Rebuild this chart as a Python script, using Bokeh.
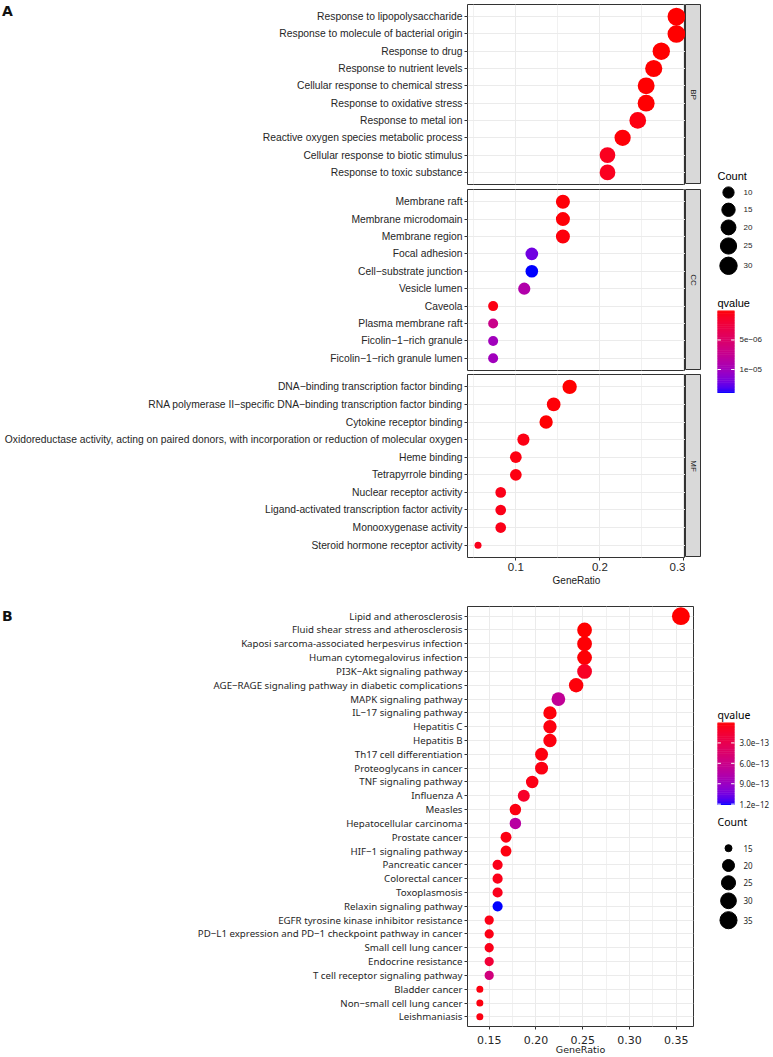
import math
from bokeh.plotting import figure
from bokeh.layouts import row, column
from bokeh.models import (FactorRange, Range1d, FixedTicker, ColumnDataSource, Label,
                          NumeralTickFormatter)
from bokeh.transform import linear_cmap
from bokeh.core.properties import value
from bokeh.embed import file_html
from bokeh.resources import INLINE

# ---------------- data: panel A (GO) ----------------
bp_terms = ["Response to lipopolysaccharide", "Response to molecule of bacterial origin",
            "Response to drug", "Response to nutrient levels", "Cellular response to chemical stress",
            "Response to oxidative stress", "Response to metal ion",
            "Reactive oxygen species metabolic process", "Cellular response to biotic stimulus",
            "Response to toxic substance"]
bp_ratio = [0.291, 0.291, 0.273, 0.264, 0.255, 0.255, 0.245, 0.227, 0.209, 0.209]
bp_count = [32, 32, 30, 29, 28, 28, 27, 25, 23, 23]
bp_q = [1.2e-10, 1.5e-10, 2e-9, 3e-8, 8e-8, 6e-8, 4e-7, 2e-7, 9e-7, 9e-7]

cc_terms = ["Membrane raft", "Membrane microdomain", "Membrane region", "Focal adhesion",
            "Cell\u2212substrate junction", "Vesicle lumen", "Caveola", "Plasma membrane raft",
            "Ficolin\u22121\u2212rich granule", "Ficolin\u22121\u2212rich granule lumen"]
cc_ratio = [0.156, 0.156, 0.156, 0.119, 0.119, 0.110, 0.073, 0.073, 0.073, 0.073]
cc_count = [17, 17, 17, 13, 13, 12, 8, 8, 8, 8]
cc_q = [2e-7, 2e-7, 3e-7, 1.22e-5, 1.39e-5, 9.0e-6, 5e-7, 7.0e-6, 1.0e-5, 1.0e-5]

mf_terms = ["DNA\u2212binding transcription factor binding",
            "RNA polymerase II\u2212specific DNA\u2212binding transcription factor binding",
            "Cytokine receptor binding",
            "Oxidoreductase activity, acting on paired donors, with incorporation or reduction of molecular oxygen",
            "Heme binding", "Tetrapyrrole binding", "Nuclear receptor activity",
            "Ligand-activated transcription factor activity", "Monooxygenase activity",
            "Steroid hormone receptor activity"]
mf_ratio = [0.164, 0.145, 0.136, 0.109, 0.100, 0.100, 0.082, 0.082, 0.082, 0.055]
mf_count = [18, 16, 15, 12, 11, 11, 9, 9, 9, 6]
mf_q = [3e-8, 2e-7, 1e-7, 5e-7, 4e-7, 4e-7, 6e-7, 6e-7, 6e-7, 8e-7]

a_ticks = [0.1, 0.2, 0.3]
a_minor = [0.05, 0.15, 0.25]
a_count_breaks = [10, 15, 20, 25, 30]
a_q_breaks = [5e-6, 1e-5]
a_q_labels = ["5e\u221206", "1e\u221205"]

# ---------------- data: panel B (KEGG) ----------------
kegg_terms = ["Lipid and atherosclerosis", "Fluid shear stress and atherosclerosis",
              "Kaposi sarcoma-associated herpesvirus infection", "Human cytomegalovirus infection",
              "PI3K\u2212Akt signaling pathway",
              "AGE\u2212RAGE signaling pathway in diabetic complications",
              "MAPK signaling pathway", "IL\u221217 signaling pathway", "Hepatitis C", "Hepatitis B",
              "Th17 cell differentiation", "Proteoglycans in cancer", "TNF signaling pathway",
              "Influenza A", "Measles", "Hepatocellular carcinoma", "Prostate cancer",
              "HIF\u22121 signaling pathway", "Pancreatic cancer", "Colorectal cancer",
              "Toxoplasmosis", "Relaxin signaling pathway",
              "EGFR tyrosine kinase inhibitor resistance",
              "PD\u2212L1 expression and PD\u22121 checkpoint pathway in cancer",
              "Small cell lung cancer", "Endocrine resistance", "T cell receptor signaling pathway",
              "Bladder cancer", "Non\u2212small cell lung cancer", "Leishmaniasis"]
kegg_ratio = [0.355, 0.252, 0.252, 0.252, 0.252, 0.243, 0.224, 0.215, 0.215, 0.215,
              0.206, 0.206, 0.196, 0.187, 0.178, 0.178, 0.168, 0.168, 0.159, 0.159,
              0.159, 0.159, 0.150, 0.150, 0.150, 0.150, 0.150, 0.140, 0.140, 0.140]
kegg_count = [38, 27, 27, 27, 27, 26, 24, 23, 23, 23, 22, 22, 21, 20, 19, 19, 18, 18, 17, 17,
              17, 17, 16, 16, 16, 16, 16, 15, 15, 15]
kegg_q = [1e-16, 2e-15, 1e-14, 1e-14, 1.0e-13, 2e-14, 6.7e-13, 2e-14, 3e-14, 3e-14,
          3e-14, 4e-14, 5e-14, 1.2e-13, 4e-14, 7.3e-13, 4e-14, 3e-14, 6e-14, 6e-14,
          7e-14, 1.205e-12, 5e-14, 5e-14, 6e-14, 1.8e-13, 5.4e-13, 3e-14, 3e-14, 4e-14]

b_ticks = [0.15, 0.20, 0.25, 0.30, 0.35]
b_minor = [0.125, 0.175, 0.225, 0.275, 0.325]
b_count_breaks = [15, 20, 25, 30, 35]
b_q_breaks = [3e-13, 6e-13, 9e-13, 1.2e-12]
b_q_labels = ["3.0e\u221213", "6.0e\u221213", "9.0e\u221213", "1.2e\u221212"]

# ---------------- styles ----------------
FONT_A = "Liberation Sans"
FONT_B = "Noto Sans"
FONT_B_AX = "DejaVu Sans"
TXT = "#262626"
FRAME = "#333333"
GRID = "#EBEBEB"
LEG_W = 70


def lab_ramp(c1, c2, n):
    def lin(c):
        c = c / 255.0
        return c / 12.92 if c <= 0.04045 else ((c + 0.055) / 1.055) ** 2.4

    def f(t):
        d = 6 / 29
        return t ** (1 / 3) if t > d ** 3 else t / (3 * d * d) + 4 / 29

    def finv(t):
        d = 6 / 29
        return t ** 3 if t > d else 3 * d * d * (t - 4 / 29)

    def to_lab(rgb):
        r, g, b = [lin(v) for v in rgb]
        X = (0.4124564 * r + 0.3575761 * g + 0.1804375 * b) / 0.95047
        Y = 0.2126729 * r + 0.7151522 * g + 0.0721750 * b
        Z = (0.0193339 * r + 0.1191920 * g + 0.9503041 * b) / 1.08883
        return (116 * f(Y) - 16, 500 * (f(X) - f(Y)), 200 * (f(Y) - f(Z)))

    def to_hex(lab):
        L, A, B = lab
        fy = (L + 16) / 116
        X = finv(fy + A / 500) * 0.95047
        Y = finv(fy)
        Z = finv(fy - B / 200) * 1.08883
        rl = 3.2404542 * X - 1.5371385 * Y - 0.4985314 * Z
        gl = -0.9692660 * X + 1.8760108 * Y + 0.0415560 * Z
        bl = 0.0556434 * X - 0.2040259 * Y + 1.0572252 * Z
        out = []
        for c in (rl, gl, bl):
            c = min(max(c, 0.0), 1.0)
            c = 12.92 * c if c <= 0.0031308 else 1.055 * c ** (1 / 2.4) - 0.055
            out.append(int(round(c * 255)))
        return "#%02x%02x%02x" % tuple(out)

    l1, l2 = to_lab(c1), to_lab(c2)
    return [to_hex(tuple(a + (b - a) * i / (n - 1) for a, b in zip(l1, l2))) for i in range(n)]


PAL = lab_ramp((255, 0, 0), (0, 0, 255), 256)      # low q = red, high q = blue


def size_scale(counts, cmin, cmax):
    return [7 + 10.8 * math.sqrt(max(c - cmin, 0) / (cmax - cmin)) for c in counts]


def key_centers(sizes, first):
    hs = [max(17.3, s + 3) for s in sizes]
    ys = [first]
    for i in range(1, len(hs)):
        ys.append(ys[-1] + (hs[i - 1] + hs[i]) / 2)
    return ys


def blank_fig(w, fh, top=0, bottom=0):
    """Figure whose y data units equal pixels measured from the canvas top,
    with the same top/bottom borders as its neighbour in the row."""
    f = figure(frame_width=w, frame_height=fh, x_range=Range1d(0, w),
               y_range=Range1d(top + fh, top),
               min_border=0, min_border_left=0, min_border_right=0, min_border_top=top,
               min_border_bottom=bottom, x_axis_location=None, y_axis_location=None,
               toolbar_location=None, output_backend="svg", title=None)
    f.grid.visible = False
    f.outline_line_color = None
    f.background_fill_color = "white"
    f.border_fill_color = "white"
    return f


def style_common(p, font, fsize):
    p.outline_line_color = FRAME
    p.outline_line_width = 1
    p.background_fill_color = "white"
    p.border_fill_color = "white"
    p.yaxis.axis_line_color = None
    p.yaxis.major_tick_line_color = FRAME
    p.yaxis.major_tick_out = 3
    p.yaxis.major_tick_in = 0
    p.yaxis.major_label_standoff = 2
    p.yaxis.major_label_text_font = font
    p.yaxis.major_label_text_font_size = fsize
    p.yaxis.major_label_text_color = TXT
    p.ygrid.grid_line_color = GRID
    p.ygrid.grid_line_width = 1
    p.xgrid.grid_line_color = GRID
    p.xgrid.grid_line_width = 1
    p.xgrid.minor_grid_line_color = "#F1F1F1"
    p.xgrid.minor_grid_line_width = 1


def style_xaxis(p, font, tick_size, title_size, fmt, ticks, standoff, title_standoff):
    p.xaxis.ticker = FixedTicker(ticks=ticks, minor_ticks=[])
    p.xaxis.formatter = NumeralTickFormatter(format=fmt)
    p.xaxis.axis_line_color = None
    p.xaxis.major_tick_line_color = FRAME
    p.xaxis.major_tick_out = 3
    p.xaxis.major_tick_in = 0
    p.xaxis.minor_tick_line_color = None
    p.xaxis.major_label_standoff = standoff
    p.xaxis.major_label_text_font = font
    p.xaxis.major_label_text_font_size = tick_size
    p.xaxis.major_label_text_color = TXT
    p.xaxis.axis_label = "GeneRatio"
    p.xaxis.axis_label_text_font = font
    p.xaxis.axis_label_text_font_size = title_size
    p.xaxis.axis_label_text_font_style = "normal"
    p.xaxis.axis_label_text_color = "#1A1A1A"
    p.xaxis.axis_label_standoff = title_standoff


def draw_colorbar(leg, qmax, top, height, breaks, labels, font, fsize):
    n = 120
    seg = height / n
    tops = [top + i * seg for i in range(n)]
    qs = [qmax * (i + 0.5) / n for i in range(n)]
    src = ColumnDataSource(dict(top=tops, bottom=[t + seg + 0.6 for t in tops], q=qs))
    leg.quad(left=16, right=33, top="top", bottom="bottom", source=src,
             fill_color=linear_cmap("q", PAL, low=0, high=qmax), line_color=None)
    ty = [top + b / qmax * height for b in breaks]
    leg.segment(x0=[16] * len(ty), x1=[19.4] * len(ty), y0=ty, y1=ty, line_color="white",
                line_width=1)
    leg.segment(x0=[29.6] * len(ty), x1=[33] * len(ty), y0=ty, y1=ty, line_color="white",
                line_width=1)
    leg.text(x=[38] * len(ty), y=ty, text=labels, text_font=value(font), text_font_size=fsize,
             text_baseline="middle", text_color=TXT)


def draw_size_legend(leg, breaks, sizes, first, title_y, font, title_size, fsize):
    ys = key_centers(sizes, first)
    leg.text(x=[16], y=[title_y], text=["Count"], text_font=value(font),
             text_font_size=title_size, text_baseline="middle", text_color="#000000")
    leg.scatter(x=[27] * len(ys), y=ys, size=sizes, color="black")
    leg.text(x=[42] * len(ys), y=ys, text=[str(c) for c in breaks], text_font=value(font),
             text_font_size=fsize, text_baseline="middle", text_color=TXT)


# ---------------- panel A ----------------
a_all_counts = bp_count + cc_count + mf_count
a_cmin, a_cmax = min(a_all_counts), max(a_all_counts)
a_qmax = max(bp_q + cc_q + mf_q)
a_xrange = Range1d(0.0425, 0.3018)
a_cmap = linear_cmap("q", PAL, low=0, high=a_qmax)

# name, terms, ratio, count, q, frame_h, border_top, border_bottom, x axis, left tag
facets = [("BP", bp_terms, bp_ratio, bp_count, bp_q, 180, 4, 5, False, True),
          ("CC", cc_terms, cc_ratio, cc_count, cc_q, 181, 0, 4, False, False),
          ("MF", mf_terms, mf_ratio, mf_count, mf_q, 183, 0, 34, True, False)]

a_rows = []
for name, terms, ratio, count, q, fh, bt, bb, show_x, with_tag in facets:
    src = ColumnDataSource(dict(term=terms, ratio=ratio, count=count, q=q,
                                size=size_scale(count, a_cmin, a_cmax)))
    p = figure(y_range=FactorRange(factors=terms[::-1], range_padding=0.2,
                                   range_padding_units="absolute"),
               x_range=a_xrange, frame_width=218, frame_height=fh,
               min_border_left=453 if with_tag else 467, min_border_right=0,
               min_border_top=bt, min_border_bottom=bb,
               x_axis_location="below" if show_x else None,
               toolbar_location=None, output_backend="svg", title=None)
    style_common(p, FONT_A, "10.3px")
    p.xgrid.ticker = FixedTicker(ticks=a_ticks, minor_ticks=a_minor)
    if show_x:
        style_xaxis(p, FONT_A, "11.5px", "10px", "0.0", a_ticks, 2, 1)
    p.scatter("ratio", "term", source=src, size="size", fill_color=a_cmap, line_color=None)

    strip = figure(x_range=Range1d(0, 1), y_range=Range1d(0, 1), frame_width=16,
                   frame_height=fh, min_border=0, min_border_left=0, min_border_right=0,
                   min_border_top=bt, min_border_bottom=0, x_axis_location=None,
                   y_axis_location=None, toolbar_location=None, output_backend="svg", title=None)
    strip.grid.visible = False
    strip.background_fill_color = "#D9D9D9"
    strip.border_fill_color = "white"
    strip.outline_line_color = FRAME
    strip.add_layout(Label(x=0.5, y=0.5, text=name, angle=-math.pi / 2, text_align="center",
                           text_baseline="middle", text_font=FONT_A,
                           text_font_size="8px", text_color="#1A1A1A"))
    if with_tag:
        tag = blank_fig(14, fh, bt, bb)
        tag.text(x=[1.5], y=[10], text=["A"], text_font=value("DejaVu Sans"),
                 text_font_style="bold", text_font_size="14px", text_baseline="middle",
                 text_color="#111111")
        a_rows.append(row(tag, p, strip))
    else:
        a_rows.append(row(p, strip))

A_H = (4 + 180 + 5) + (181 + 4) + (183 + 34)
legA = blank_fig(LEG_W, A_H)
draw_size_legend(legA, a_count_breaks, size_scale(a_count_breaks, a_cmin, a_cmax),
                 192, 175, FONT_A, "11px", "8px")
legA.text(x=[16], y=[302], text=["qvalue"], text_font=value(FONT_A), text_font_size="11px",
          text_baseline="middle", text_color="#000000")
draw_colorbar(legA, a_qmax, 310, 82, a_q_breaks, a_q_labels, FONT_A, "8px")

# ---------------- panel B ----------------
B_TOP, B_FH, B_BOT = 15, 420, 30
b_cmin, b_cmax = min(kegg_count), max(kegg_count)
b_qmax = max(kegg_q)
srcB = ColumnDataSource(dict(term=kegg_terms, ratio=kegg_ratio, count=kegg_count, q=kegg_q,
                             size=size_scale(kegg_count, b_cmin, b_cmax)))
pB = figure(y_range=FactorRange(factors=kegg_terms[::-1], range_padding=0.2,
                                range_padding_units="absolute"),
            x_range=Range1d(0.1268, 0.3685), frame_width=226, frame_height=B_FH,
            min_border_left=453, min_border_right=8, min_border_top=B_TOP,
            min_border_bottom=B_BOT, toolbar_location=None, output_backend="svg", title=None)
style_common(pB, FONT_B, "9.7px")
pB.xgrid.ticker = FixedTicker(ticks=b_ticks, minor_ticks=b_minor)
style_xaxis(pB, FONT_B_AX, "11px", "9.5px", "0.00", b_ticks, 6, -3)
pB.scatter("ratio", "term", source=srcB, size="size",
           fill_color=linear_cmap("q", PAL, low=0, high=b_qmax), line_color=None)

tagB = blank_fig(14, B_FH, B_TOP, B_BOT)
tagB.text(x=[1.5], y=[24], text=["B"], text_font=value("DejaVu Sans"), text_font_style="bold",
          text_font_size="14px", text_baseline="middle", text_color="#111111")

legB = blank_fig(LEG_W, B_FH, B_TOP, B_BOT)
legB.text(x=[16], y=[123], text=["qvalue"], text_font=value(FONT_B), text_font_size="10.5px",
          text_baseline="middle", text_color="#000000")
draw_colorbar(legB, b_qmax, 131, 82, b_q_breaks, b_q_labels, FONT_B, "8px")
draw_size_legend(legB, b_count_breaks, size_scale(b_count_breaks, b_cmin, b_cmax),
                 256.7, 230.7, FONT_B, "10.5px", "8px")

page = column(row(column(*a_rows), legA), row(tagB, pB, legB))
open("out.html", "w").write(file_html(page, INLINE))
